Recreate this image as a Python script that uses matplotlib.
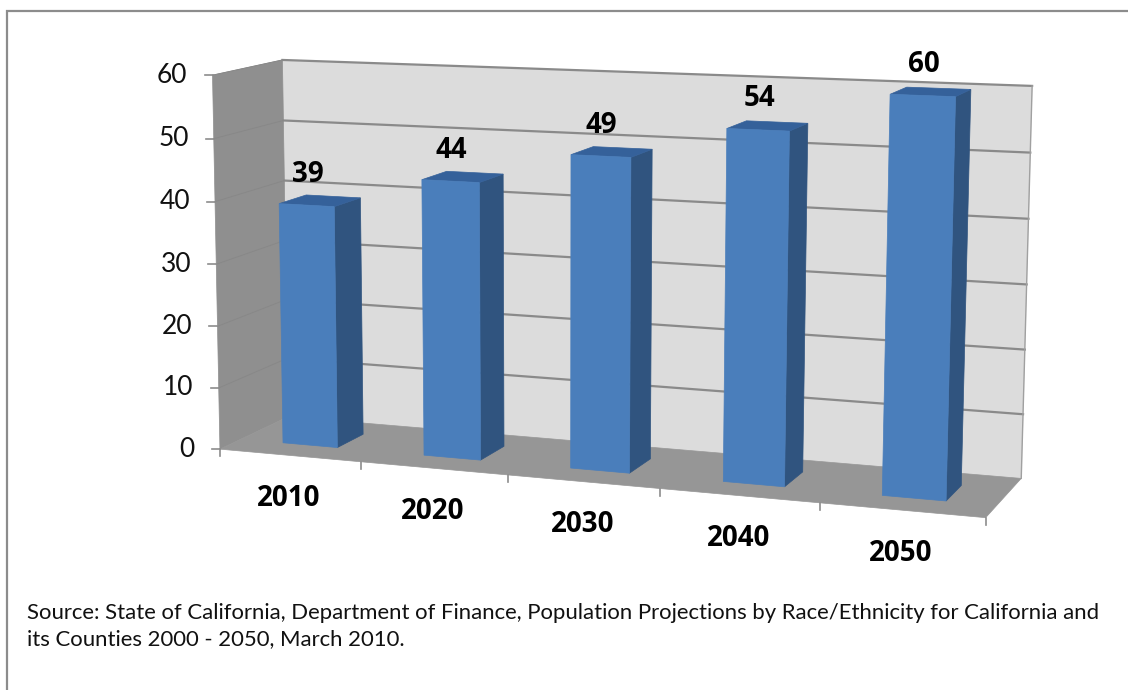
import numpy as np
import matplotlib
matplotlib.use("Agg")
import matplotlib.pyplot as plt
from matplotlib.patches import Polygon

#%% data
years = ["2010", "2020", "2030", "2040", "2050"]
values = [39, 44, 49, 54, 60]
value_ticks = [0, 10, 20, 30, 40, 50, 60]
source = ("Source: State of California, Department of Finance, Population Projections by Race/Ethnicity for California and\n"
          "its Counties 2000 - 2050, March 2010.")

#%% 3d box layout
YMAX = 60
BAR_X = (0.305, 0.695)
BAR_Z = (0.30, 0.70)

# box corners (category, value, depth) and where they land on the page
box_pts = [(0, 0, 0), (0, 60, 0), (0, 0, 1), (0, 60, 1), (5, 0, 1), (5, 60, 1), (5, 0, 0)]
page_pts = [(222, 450), (211, 74), (286, 416), (284, 61), (1022, 478), (1032, 86), (985, 518)]


def fit_camera(box, page):
    # direct linear transform, pixels scaled down for conditioning
    rows = []
    for (x, y, z), (u, v) in zip(box, page):
        p = [x, y / YMAX, z, 1]
        u, v = u / 1000, v / 1000
        rows.append(p + [0, 0, 0, 0] + [-u * c for c in p])
        rows.append([0, 0, 0, 0] + p + [-v * c for c in p])
    return np.linalg.svd(np.array(rows))[2][-1].reshape(3, 4)


CAM = fit_camera(box_pts, page_pts)


def proj(x, y, z):
    h = CAM @ np.array([x, y / YMAX, z, 1])
    return h[0] / h[2] * 1000, h[1] / h[2] * 1000


def face(ax, pts, color, z=2):
    ax.add_patch(Polygon([proj(*p) for p in pts], closed=True, facecolor=color,
                         edgecolor=color, linewidth=0.5, zorder=z))


#%% figure
plt.rcParams["font.family"] = ["Lato", "DejaVu Sans"]
BOLD = ["Open Sans", "DejaVu Sans"]
fig = plt.figure(figsize=(11.28, 6.9), dpi=100, facecolor="white")
ax = fig.add_axes([0, 0, 1, 1])
ax.set_xlim(0, 1128)
ax.set_ylim(690, 0)
ax.axis("off")

# frame, open on the right and at the bottom
ax.plot([7, 7, 1128], [690, 11, 11], color="#8c8c8c", lw=1.6, solid_joinstyle="miter", zorder=1)

# walls and floor
n = len(years)
face(ax, [(0, 0, 1), (n, 0, 1), (n, YMAX, 1), (0, YMAX, 1)], "#dcdcdc", 1)
face(ax, [(0, 0, 0), (0, 0, 1), (0, YMAX, 1), (0, YMAX, 0)], "#8f8f8f", 1)
face(ax, [(0, 0, 0), (n, 0, 0), (n, 0, 1), (0, 0, 1)], "#969696", 1)

# gridlines, back wall and side wall
for t in value_ticks:
    a, b, c = proj(0, t, 0), proj(0, t, 1), proj(n, t, 1)
    if t > 0:
        ax.plot([b[0], c[0]], [b[1], c[1]], color="#8a8a8a", lw=1.6, zorder=1.5)
        ax.plot([a[0], b[0]], [a[1], b[1]], color="#888888", lw=0.7, zorder=1.5)
    ax.plot([a[0] - 8, a[0]], [a[1], a[1]], color="#8c8c8c", lw=1.2, zorder=1.5)
    ax.text(a[0] - 25, a[1], str(t), ha="right", va="center", fontsize=19, color="#111111")

# outline of the back wall's right edge
a, b = proj(n, 0, 1), proj(n, YMAX, 1)
ax.plot([a[0], b[0]], [a[1], b[1]], color="#a0a0a0", lw=1, zorder=1.5)

# category ticks along the front of the floor
for i in range(n + 1):
    a = proj(i, 0, 0)
    ax.plot([a[0], a[0]], [a[1], a[1] + 7], color="#8c8c8c", lw=1.2, zorder=1.5)

# bars
for i, (year, val) in enumerate(zip(years, values)):
    x0, x1 = i + BAR_X[0], i + BAR_X[1]
    z0, z1 = BAR_Z
    face(ax, [(x1, 0, z0), (x1, 0, z1), (x1, val, z1), (x1, val, z0)], "#30547f", 3)
    face(ax, [(x0, val, z0), (x1, val, z0), (x1, val, z1), (x0, val, z1)], "#35619a", 3)
    face(ax, [(x0, 0, z0), (x1, 0, z0), (x1, val, z0), (x0, val, z0)], "#4a7ebb", 4)

    tx, ty = proj((x0 + x1) / 2, val, z0)
    ax.text(tx + 1, ty - 31, str(val), ha="center", va="center", fontsize=20, family=BOLD,
            fontweight="bold", color="black", zorder=5)
    cx, cy = proj(i + 0.5, 0, 0)
    ax.text(cx - 1, cy + 43, year, ha="center", va="center", fontsize=20, family=BOLD,
            fontweight="bold", color="black", zorder=5)

ax.text(27, 626, source, ha="left", va="center", fontsize=15.9, color="#111111", linespacing=1.38)

fig.savefig("out.png", dpi=100)
